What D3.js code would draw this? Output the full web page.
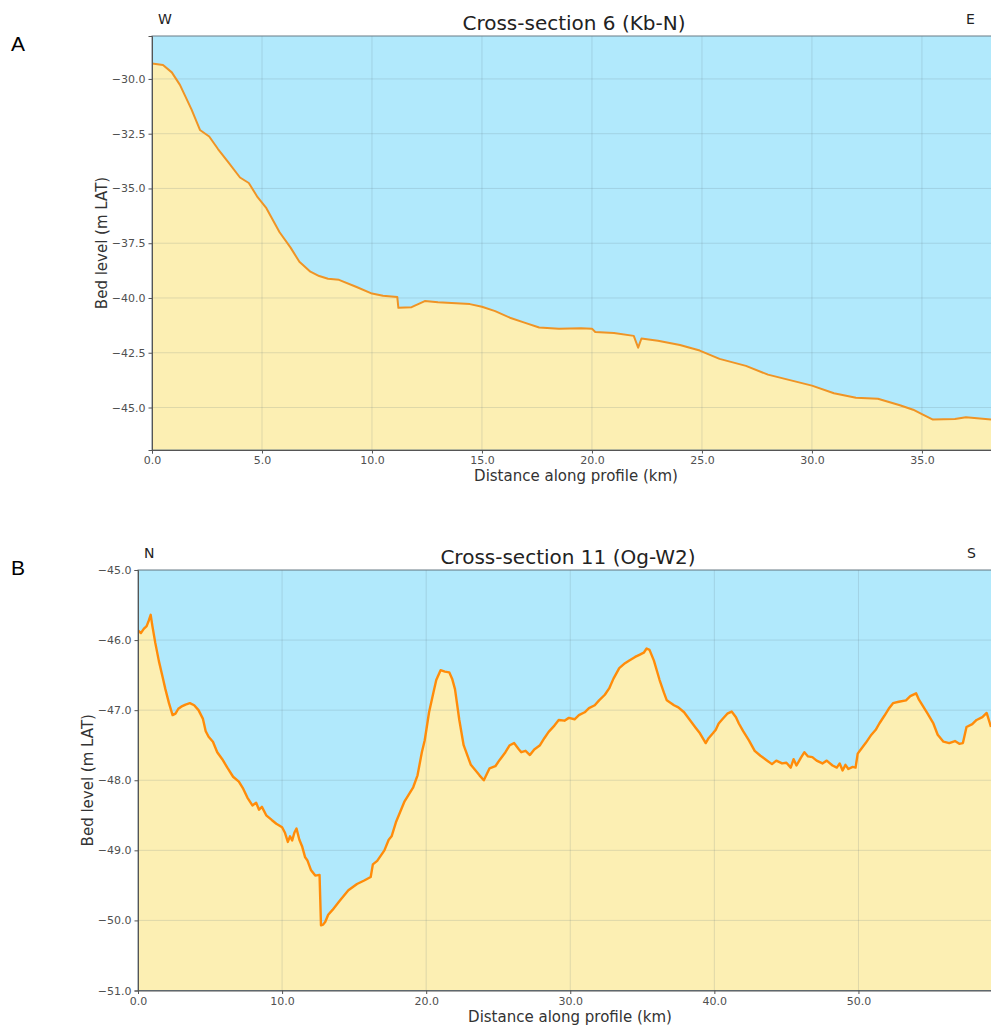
<!DOCTYPE html>
<html>
<head>
<meta charset="utf-8">
<script src="https://cdn.jsdelivr.net/npm/d3@7"></script>
<style>
  body { margin: 0; background: #fff; }
  svg { display: block; }
  text { font-family: "DejaVu Sans", sans-serif; }
</style>
</head>
<body>
<svg id="chart" width="991" height="1029"></svg>
<script>
// Cross-section 6 (Kb-N): distance (km), bed level (m LAT)
const distA = [0, 0.5, 0.9, 1.27, 1.8, 2.18, 2.6, 3.0, 3.5, 4.0, 4.4, 4.8, 5.2, 5.8, 6.3, 6.7, 7.2, 7.6, 8.0, 8.5,
  9.3, 10.0, 10.5, 11.15, 11.2, 11.8, 12.4, 13.0, 14.45, 15.0, 15.6, 16.27, 17.0, 17.6, 18.5, 19.5, 20.0, 20.15,
  21.0, 21.9, 22.1, 22.25, 23.0, 24.0, 24.9, 25.8, 27.0, 28.0, 29.0, 30.0, 31.0, 32.0, 33.0, 34.0, 34.6, 35.0,
  35.5, 36.5, 37.0, 38.2];
const bedA = [-29.3, -29.36, -29.7, -30.27, -31.4, -32.33, -32.63, -33.2, -33.84, -34.5, -34.75, -35.4, -35.9,
  -37.0, -37.7, -38.35, -38.8, -39.0, -39.12, -39.17, -39.5, -39.8, -39.9, -39.95, -40.45, -40.42, -40.14, -40.2,
  -40.28, -40.4, -40.6, -40.9, -41.15, -41.35, -41.4, -41.38, -41.4, -41.55, -41.6, -41.73, -42.27, -41.85, -41.95,
  -42.15, -42.4, -42.78, -43.1, -43.5, -43.75, -44.0, -44.35, -44.55, -44.6, -44.9, -45.1, -45.3, -45.55, -45.52,
  -45.45, -45.55];

// Cross-section 11 (Og-W2)
const distB = [0, 0.2, 0.4, 0.6, 0.75, 0.88, 1.0, 1.2, 1.45, 1.7, 1.9, 2.15, 2.4, 2.6, 2.8, 3.0, 3.3, 3.6, 3.9, 4.2,
  4.5, 4.7, 4.9, 5.2, 5.5, 5.85, 6.2, 6.6, 7.0, 7.3, 7.6, 7.94, 8.2, 8.4, 8.6, 8.9, 9.3, 9.6, 10.0, 10.2, 10.4,
  10.55, 10.7, 10.85, 11.0, 11.2, 11.4, 11.6, 11.75, 12.0, 12.3, 12.6, 12.7, 12.85, 13.0, 13.2, 13.5, 14.0, 14.6,
  15.2, 15.7, 16.15, 16.3, 16.6, 17.1, 17.4, 17.6, 17.9, 18.1, 18.5, 18.8, 19.1, 19.4, 19.7, 19.9, 20.2, 20.5,
  20.7, 21.0, 21.3, 21.6, 21.8, 22.0, 22.3, 22.6, 23.1, 23.7, 24.0, 24.4, 24.8, 25.1, 25.5, 25.8, 26.1, 26.4,
  26.6, 26.9, 27.2, 27.5, 27.9, 28.2, 28.5, 28.9, 29.2, 29.6, 29.9, 30.3, 30.6, 31.0, 31.3, 31.7, 32.0, 32.4,
  32.7, 33.0, 33.4, 33.8, 34.1, 34.5, 34.8, 35.1, 35.3, 35.5, 35.8, 36.2, 36.5, 36.7, 37.0, 37.2, 37.5, 37.9,
  38.3, 38.7, 39.0, 39.4, 39.6, 39.9, 40.1, 40.3, 40.6, 40.9, 41.2, 41.5, 41.7, 42.0, 42.4, 42.8, 43.2, 43.6,
  44.0, 44.3, 44.7, 45.0, 45.3, 45.5, 45.7, 46.0, 46.25, 46.5, 46.8, 47.1, 47.5, 47.8, 48.2, 48.5, 48.7, 48.9,
  49.1, 49.3, 49.6, 49.8, 49.95, 50.2, 50.5, 50.9, 51.2, 51.45, 51.8, 52.1, 52.4, 52.8, 53.3, 53.6, 54.0, 54.2,
  54.35, 54.8, 55.2, 55.5, 55.9, 56.3, 56.7, 57.0, 57.25, 57.5, 57.9, 58.2, 58.6, 58.9, 59.2];
const bedB = [-45.86, -45.9, -45.84, -45.8, -45.72, -45.64, -45.8, -46.04, -46.3, -46.52, -46.7, -46.9, -47.07,
  -47.05, -46.98, -46.95, -46.92, -46.9, -46.93, -47.0, -47.12, -47.3, -47.38, -47.45, -47.6, -47.7, -47.82,
  -47.95, -48.02, -48.12, -48.25, -48.36, -48.32, -48.42, -48.38, -48.5, -48.57, -48.62, -48.67, -48.75, -48.88,
  -48.8, -48.86, -48.75, -48.69, -48.85, -48.95, -49.1, -49.14, -49.28, -49.36, -49.35, -50.07, -50.06, -50.02,
  -49.92, -49.85, -49.72, -49.57, -49.48, -49.43, -49.38, -49.2, -49.15, -49.0, -48.85, -48.8, -48.6, -48.5,
  -48.3, -48.2, -48.1, -47.93, -47.6, -47.43, -47.03, -46.75, -46.57, -46.43, -46.45, -46.46, -46.55, -46.7,
  -47.14, -47.5, -47.78, -47.93, -48.0, -47.83, -47.8, -47.71, -47.6, -47.5, -47.47, -47.55, -47.6, -47.58,
  -47.64, -47.56, -47.5, -47.4, -47.31, -47.22, -47.14, -47.15, -47.11, -47.13, -47.07, -47.03, -46.97, -46.93,
  -46.86, -46.78, -46.69, -46.55, -46.4, -46.33, -46.29, -46.24, -46.21, -46.18, -46.12, -46.14, -46.29, -46.57,
  -46.75, -46.86, -46.9, -46.93, -46.96, -47.03, -47.14, -47.25, -47.33, -47.47, -47.4, -47.33, -47.28, -47.19,
  -47.12, -47.05, -47.02, -47.1, -47.19, -47.3, -47.43, -47.58, -47.65, -47.71, -47.77, -47.72, -47.76, -47.75,
  -47.82, -47.7, -47.79, -47.68, -47.6, -47.66, -47.67, -47.72, -47.76, -47.72, -47.79, -47.82, -47.76, -47.86,
  -47.78, -47.84, -47.81, -47.82, -47.62, -47.55, -47.47, -47.35, -47.28, -47.19, -47.08, -46.98, -46.9, -46.88,
  -46.86, -46.8, -46.76, -46.85, -46.9, -47.05, -47.19, -47.35, -47.45, -47.47, -47.44, -47.48, -47.47, -47.24,
  -47.2, -47.14, -47.1, -47.04, -47.24];

const ticksXA = [0, 5, 10, 15, 20, 25, 30, 35];
const ticksYA = [-30, -32.5, -35, -37.5, -40, -42.5, -45];
const ticksXB = [0, 10, 20, 30, 40, 50];
const ticksYB = [-45, -46, -47, -48, -49, -50, -51];

const svg = d3.select("#chart");
const fmt = d3.format(".1f");

function drawPanel(p) {
  const x = d3.scaleLinear().domain(p.xDomain).range([p.left, p.right]);
  const y = d3.scaleLinear().domain(p.yDomain).range([p.bottom, p.top]);
  const pts = p.dist.map((d, i) => [d, p.bed[i]]);
  const g = svg.append("g");

  const clipId = "clip-" + p.id;
  g.append("clipPath").attr("id", clipId)
    .append("rect")
    .attr("x", p.left).attr("y", p.top)
    .attr("width", p.right - p.left).attr("height", p.bottom - p.top);

  const plot = g.append("g").attr("clip-path", `url(#${clipId})`);

  // water above the bed
  plot.append("rect")
    .attr("x", p.left).attr("y", p.top)
    .attr("width", p.right - p.left).attr("height", p.bottom - p.top)
    .attr("fill", "#b1e9fc");

  // sediment below the bed
  plot.append("path")
    .datum(pts)
    .attr("fill", "#fcefb3")
    .attr("d", d3.area().x(d => x(d[0])).y0(p.bottom + 5).y1(d => y(d[1])));

  // grid
  plot.selectAll(".gx").data(p.ticksX).join("line")
    .attr("x1", d => x(d)).attr("x2", d => x(d))
    .attr("y1", p.top).attr("y2", p.bottom)
    .attr("stroke", "rgba(90,110,120,0.18)").attr("stroke-width", 1);
  plot.selectAll(".gy").data(p.ticksY).join("line")
    .attr("x1", p.left).attr("x2", p.right)
    .attr("y1", d => y(d)).attr("y2", d => y(d))
    .attr("stroke", "rgba(90,110,120,0.18)").attr("stroke-width", 1);

  // bed line
  plot.append("path")
    .datum(pts)
    .attr("fill", "none")
    .attr("stroke", p.lineColor)
    .attr("stroke-width", p.lineWidth)
    .attr("stroke-linejoin", "round")
    .attr("d", d3.line().x(d => x(d[0])).y(d => y(d[1])));

  // frame
  g.append("rect")
    .attr("x", p.left).attr("y", p.top)
    .attr("width", p.right - p.left + 5).attr("height", p.bottom - p.top)
    .attr("fill", "none").attr("stroke", "#6b7c85").attr("stroke-width", 1);

  // axes
  const ax = g.append("g")
    .attr("transform", `translate(0,${p.bottom})`)
    .call(d3.axisBottom(x).tickValues(p.ticksX).tickFormat(fmt).tickSize(3.5).tickPadding(3));
  const ay = g.append("g")
    .attr("transform", `translate(${p.left},0)`)
    .call(d3.axisLeft(y).tickValues(p.ticksY).tickFormat(fmt).tickSize(3.5).tickPadding(3));
  [ax, ay].forEach(a => {
    a.select(".domain").attr("stroke", "#555");
    a.selectAll(".tick line").attr("stroke", "#555");
    a.selectAll(".tick text").attr("fill", "#505050").style("font-size", "11px")
      .style("font-family", "'DejaVu Sans', sans-serif");
  });

  // texts
  g.append("text").attr("x", p.titleX).attr("y", p.top - 6)
    .attr("text-anchor", "middle").attr("fill", "#222").style("font-size", "20px")
    .text(p.title);
  g.append("text").attr("x", p.leftDirX).attr("y", p.top - 12)
    .attr("fill", "#222").style("font-size", "14px").text(p.leftDir);
  g.append("text").attr("x", p.rightDirX).attr("y", p.top - 12)
    .attr("fill", "#222").style("font-size", "14px").text(p.rightDir);
  g.append("text").attr("x", p.titleX + 2).attr("y", p.bottom + 31)
    .attr("text-anchor", "middle").attr("fill", "#333").style("font-size", "15px")
    .text("Distance along profile (km)");
  g.append("text")
    .attr("transform", `translate(${p.yLabelX},${(p.top + p.bottom) / 2}) rotate(-90)`)
    .attr("text-anchor", "middle").attr("fill", "#333").style("font-size", "15px")
    .text("Bed level (m LAT)");
  g.append("text").attr("x", 11).attr("y", p.letterY)
    .attr("fill", "#000").style("font-size", "21px")
    .style("font-family", "'Liberation Sans', Arial, sans-serif")
    .text(p.letter);
}

drawPanel({
  id: "a", letter: "A", letterY: 51,
  title: "Cross-section 6 (Kb-N)", titleX: 574,
  leftDir: "W", leftDirX: 158, rightDir: "E", rightDirX: 966,
  left: 152, right: 991, top: 36, bottom: 450,
  xDomain: [0, 38.14], yDomain: [-46.94, -28.04],
  ticksX: ticksXA, ticksY: ticksYA,
  dist: distA, bed: bedA,
  lineColor: "#ef9425", lineWidth: 2,
  yLabelX: 107
});

drawPanel({
  id: "b", letter: "B", letterY: 575,
  title: "Cross-section 11 (Og-W2)", titleX: 568,
  leftDir: "N", leftDirX: 144, rightDir: "S", rightDirX: 967,
  left: 138, right: 991, top: 570, bottom: 990.5,
  xDomain: [0, 59.2], yDomain: [-51, -45],
  ticksX: ticksXB, ticksY: ticksYB,
  dist: distB, bed: bedB,
  lineColor: "#ff8c0a", lineWidth: 2.4,
  yLabelX: 93
});
</script>
</body>
</html>
